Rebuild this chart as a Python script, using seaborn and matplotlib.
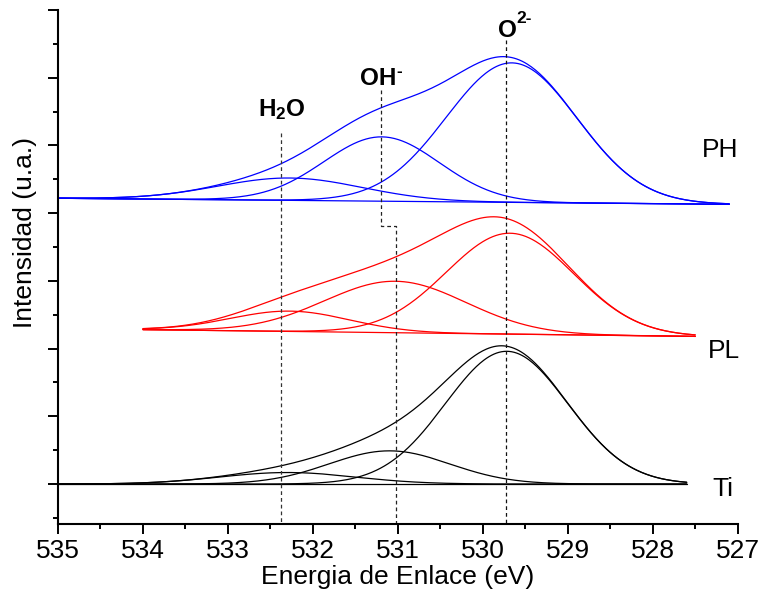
import numpy as np
import pandas as pd
import matplotlib
matplotlib.use("Agg")
import matplotlib.pyplot as plt
import seaborn as sns
from matplotlib.ticker import MultipleLocator, NullFormatter

# ---------------- data ----------------
samples = ["Ti", "PL", "PH"]
sample_colors = ["#000000", "#FF0000", "#0000FF"]
x_start = [535.0, 534.0, 535.0]          # eV where each spectrum starts
x_end = [527.6, 527.5, 527.1]            # eV where each spectrum ends
bg_start = [0.00, 2.28, 4.22]            # background level at start
bg_end = [0.00, 2.18, 4.13]              # background level at end

components = ["H2O", "OH-", "O2-"]
ti_centers = [532.30, 531.10, 529.72]
ti_heights = [0.17, 0.49, 1.96]
ti_widths = [0.80, 0.71, 0.72]
pl_centers = [532.27, 531.03, 529.68]
pl_heights = [0.30, 0.76, 1.49]
pl_widths = [0.70, 0.83, 0.75]
ph_centers = [532.27, 531.19, 529.66]
ph_heights = [0.33, 0.95, 2.06]
ph_widths = [0.85, 0.68, 0.77]

sample_labels = ["Ti", "PL", "PH"]
sample_label_x = [527.30, 527.35, 527.42]
sample_label_y = [-0.07, 1.97, 4.93]

# guide lines (energy, intensity)
h2o_guide_x = [532.37, 532.37]
h2o_guide_y = [5.18, -0.6]
oh_guide_x = [531.20, 531.20, 531.02, 531.02]
oh_guide_y = [5.82, 3.81, 3.81, -0.6]
o2_guide_x = [529.73, 529.73]
o2_guide_y = [6.56, -0.6]

x_ticks = [535, 534, 533, 532, 531, 530, 529, 528, 527]

# ---------------- build long table ----------------
params = {
    "Ti": (ti_centers, ti_heights, ti_widths),
    "PL": (pl_centers, pl_heights, pl_widths),
    "PH": (ph_centers, ph_heights, ph_widths),
}
frames = []
for i, s in enumerate(samples):
    e = np.linspace(x_start[i], x_end[i], 500)
    bg = np.interp(e, [x_end[i], x_start[i]], [bg_end[i], bg_start[i]])
    cs, hs, ws = params[s]
    total = bg.copy()
    frames.append(pd.DataFrame({"energy": e, "intensity": bg, "sample": s, "curve": "bg"}))
    for c, h, w, name in zip(cs, hs, ws, components):
        peak = h * np.exp(-(e - c) ** 2 / (2 * w ** 2))
        total = total + peak
        frames.append(pd.DataFrame({"energy": e, "intensity": bg + peak, "sample": s, "curve": name}))
    frames.append(pd.DataFrame({"energy": e, "intensity": total, "sample": s, "curve": "envelope"}))
df = pd.concat(frames, ignore_index=True)

# ---------------- plotting ----------------
sns.set_style("ticks")
plt.rcParams["font.family"] = ["Liberation Sans", "DejaVu Sans"]
plt.rcParams["mathtext.fontset"] = "custom"
plt.rcParams["mathtext.rm"] = "Liberation Sans"
plt.rcParams["mathtext.bf"] = "Liberation Sans:bold"
plt.rcParams["mathtext.it"] = "Liberation Sans:italic"
plt.rcParams["text.color"] = "black"
plt.rcParams["axes.labelcolor"] = "black"
plt.rcParams["xtick.color"] = "black"
plt.rcParams["ytick.color"] = "black"
plt.rcParams["xtick.labelcolor"] = "black"
plt.rcParams["ytick.labelcolor"] = "black"

fig = plt.figure(figsize=(7.61, 6.02), dpi=100)
ax = fig.add_axes([0.0762, 0.1296, 0.8932, 0.8538])

for s, col in zip(samples, sample_colors):
    sub = df[df["sample"] == s]
    sns.lineplot(data=sub, x="energy", y="intensity", units="curve", estimator=None,
                 color=col, lw=0.9, ax=ax, legend=False)

dash = (0, (3.0, 2.4))
ax.plot(h2o_guide_x, h2o_guide_y, color="#333333", lw=0.9, ls=dash)
ax.plot(oh_guide_x, oh_guide_y, color="#222222", lw=0.9, ls=dash)
ax.plot(o2_guide_x, o2_guide_y, color="#111111", lw=0.9, ls=dash)

# peak labels
ax.text(532.65, 5.43, r"H$_{\mathbf{2}}$O", fontsize=17.5, fontweight="bold", ha="left",
        va="baseline", color="black")
ax.text(531.45, 5.89, "OH", fontsize=17.5, fontweight="bold", ha="left", va="baseline", color="black")
ax.text(531.02, 6.03, "-", fontsize=12.5, fontweight="bold", ha="left", va="baseline", color="black")
ax.text(529.82, 6.60, "O", fontsize=17.5, fontweight="bold", ha="left", va="baseline", color="black")
ax.text(529.60, 6.81, "2-", fontsize=12.5, fontweight="bold", ha="left", va="baseline", color="black")

for lab, lx, ly in zip(sample_labels, sample_label_x, sample_label_y):
    ax.text(lx, ly, lab, fontsize=19, ha="left", va="center", color="black")

ax.set_xlim(535, 527)
ax.set_ylim(-0.59, 7.0)
ax.set_xticks(x_ticks)
ax.set_xticklabels([str(t) for t in x_ticks])
ax.xaxis.set_minor_locator(MultipleLocator(0.5))
ax.yaxis.set_major_locator(MultipleLocator(1.0))
ax.yaxis.set_minor_locator(MultipleLocator(0.5))
ax.yaxis.set_major_formatter(NullFormatter())

ax.tick_params(axis="both", which="major", direction="out", length=7, width=1.4,
               labelsize=19, pad=4, color="black", labelcolor="black")
ax.tick_params(axis="both", which="minor", direction="out", length=3.8, width=1.4, color="black")
for sp in ["top", "right"]:
    ax.spines[sp].set_visible(False)
for sp in ["left", "bottom"]:
    ax.spines[sp].set_linewidth(1.5)
    ax.spines[sp].set_color("black")

ax.set_xlabel("Energia de Enlace (eV)", fontsize=19, labelpad=1, color="black")
ax.set_ylabel("Intensidad (u.a.)", fontsize=19, color="black")
ax.yaxis.set_label_coords(-0.031, 0.568)

fig.savefig("out.png", dpi=100)
